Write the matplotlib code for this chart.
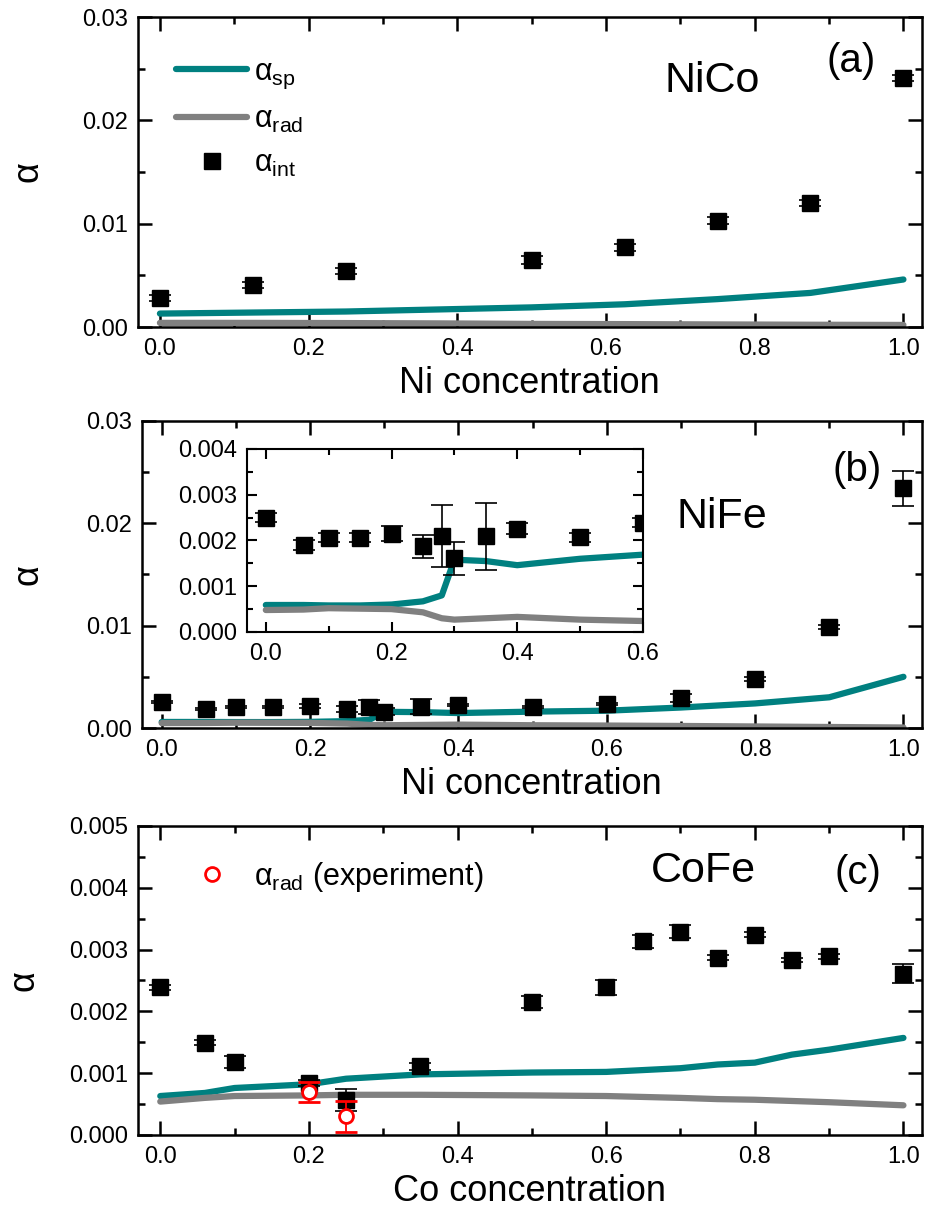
import matplotlib
matplotlib.use('Agg')
import matplotlib.pyplot as plt
from matplotlib.lines import Line2D
from matplotlib.ticker import MultipleLocator, FormatStrFormatter

plt.rcParams['font.family'] = ['Liberation Sans', 'DejaVu Sans']
plt.rcParams['mathtext.fontset'] = 'custom'
plt.rcParams['mathtext.rm'] = 'Liberation Sans'

TEAL = '#008080'
GREY = '#808080'

# NiCo
x_nico = [0.0, 0.125, 0.25, 0.5, 0.625, 0.75, 0.875, 1.0]
int_nico = [0.0028, 0.0041, 0.0054, 0.0065, 0.0077, 0.0103, 0.0120, 0.0241]
err_nico = [0.0003, 0.0003, 0.0003, 0.0004, 0.0003, 0.0003, 0.0003, 0.0003]
xl_nico = [0.0, 0.125, 0.25, 0.375, 0.5, 0.625, 0.75, 0.875, 1.0]
sp_nico = [0.0013, 0.0014, 0.0015, 0.0017, 0.0019, 0.0022, 0.0027, 0.0033, 0.0046]
rad_nico = [0.0004, 0.0004, 0.00038, 0.00035, 0.0003, 0.00028, 0.00025, 0.00022, 0.0002]

# NiFe
x_nife = [0.0, 0.06, 0.1, 0.15, 0.2, 0.25, 0.28, 0.3, 0.35, 0.4, 0.5, 0.6, 0.7, 0.8, 0.9, 1.0]
int_nife = [0.0025, 0.0019, 0.00206, 0.00206, 0.00215, 0.00187, 0.00209, 0.00161,
            0.00209, 0.00226, 0.00207, 0.00239, 0.0029, 0.0048, 0.0099, 0.0234]
err_nife = [0.0001, 0.0001, 0.0001, 0.0001, 0.00017, 0.00026, 0.00068, 0.00036,
            0.00073, 0.00012, 0.0001, 0.0001, 0.0004, 0.0002, 0.0002, 0.0017]
sp_nife = [0.00059, 0.00059, 0.00058, 0.00058, 0.0006, 0.00067, 0.0008, 0.00158,
           0.00155, 0.00146, 0.0016, 0.00169, 0.0020, 0.0024, 0.0030, 0.0050]
rad_nife = [0.00048, 0.00049, 0.00052, 0.00051, 0.0005, 0.00043, 0.0003, 0.00027,
            0.0003, 0.00033, 0.00027, 0.00024, 0.0002, 0.00015, 0.0001, 0.00005]

# CoFe
x_cofe = [0.0, 0.06, 0.1, 0.2, 0.25, 0.35, 0.5, 0.6, 0.65, 0.7, 0.75, 0.8, 0.85, 0.9, 1.0]
int_cofe = [0.00239, 0.00149, 0.00118, 0.00084, 0.00057, 0.00111, 0.00215, 0.00239,
            0.00313, 0.00329, 0.00287, 0.00324, 0.00283, 0.00289, 0.00261]
err_cofe = [0.00004, 0.00004, 0.0001, 0.00005, 0.00018, 0.00006, 0.0001, 0.00012,
            0.0001, 0.0001, 0.00004, 0.00004, 0.00004, 0.00004, 0.00015]
xl_cofe = [0.0, 0.06, 0.1, 0.2, 0.25, 0.35, 0.5, 0.6, 0.7, 0.75, 0.8, 0.85, 0.9, 1.0]
sp_cofe = [0.00063, 0.00068, 0.00076, 0.00082, 0.00091, 0.00098, 0.00101, 0.00102,
           0.00108, 0.00114, 0.00117, 0.0013, 0.00138, 0.00157]
rad_cofe = [0.00054, 0.0006, 0.00063, 0.00064, 0.00065, 0.00065, 0.00064, 0.00063,
            0.0006, 0.00058, 0.00057, 0.00055, 0.00053, 0.00048]
x_exp = [0.2, 0.25]
rad_exp = [0.0007, 0.0003]
err_exp = [0.00016, 0.00025]


def style_axis(ax, ymajor, yminor, fmt, major=10, minor=5, width=1.8):
    ax.xaxis.set_major_locator(MultipleLocator(0.2))
    ax.xaxis.set_minor_locator(MultipleLocator(0.1))
    ax.yaxis.set_major_locator(MultipleLocator(ymajor))
    ax.yaxis.set_minor_locator(MultipleLocator(yminor))
    ax.xaxis.set_major_formatter(FormatStrFormatter('%.1f'))
    ax.yaxis.set_major_formatter(FormatStrFormatter(fmt))
    ax.tick_params(which='both', direction='in', top=True, right=True,
                   labelsize=17, width=width)
    ax.tick_params(axis='y', which='major', pad=7)
    ax.tick_params(axis='x', which='major', pad=8)
    ax.tick_params(which='major', length=major)
    ax.tick_params(which='minor', length=minor)
    for s in ax.spines.values():
        s.set_linewidth(width)


def draw(ax, xl, sp, rad, xd, yd, ed):
    ax.plot(xl, sp, color=TEAL, lw=4.5, solid_capstyle='round')
    ax.plot(xl, rad, color=GREY, lw=4.5, solid_capstyle='round')
    ax.errorbar(xd, yd, yerr=ed, fmt='s', color='black', ms=11, capsize=8,
                elinewidth=1.2, capthick=1.2, zorder=5)


def label_axis(ax, xlabel, xpos):
    ax.set_xlabel(xlabel, fontsize=26, labelpad=4)
    ax.set_ylabel('α', fontsize=26, va='center')
    ax.yaxis.set_label_coords(xpos, 0.5)


fig = plt.figure(figsize=(9.26, 12.17), dpi=100)
ax1 = fig.add_axes([0.1486, 0.7313, 0.8471, 0.2547])
ax2 = fig.add_axes([0.1530, 0.4018, 0.8427, 0.2525])
ax3 = fig.add_axes([0.1490, 0.0674, 0.8467, 0.2540])

# (a) NiCo
draw(ax1, xl_nico, sp_nico, rad_nico, x_nico, int_nico, err_nico)
ax1.set_xlim(-0.03, 1.025)
ax1.set_ylim(0, 0.03)
style_axis(ax1, 0.01, 0.005, '%.2f')
label_axis(ax1, 'Ni concentration', -0.14)
ax1.text(0.732, 0.794, 'NiCo', transform=ax1.transAxes, fontsize=31, ha='center', va='center')
ax1.text(0.909, 0.858, '(a)', transform=ax1.transAxes, fontsize=29, ha='center', va='center')
handles = [Line2D([], [], color=TEAL, lw=4.5, solid_capstyle='round'),
           Line2D([], [], color=GREY, lw=4.5, solid_capstyle='round'),
           Line2D([], [], color='black', marker='s', ls='none', ms=11)]
labels = [r'α$_{\mathregular{sp}}$', r'α$_{\mathregular{rad}}$', r'α$_{\mathregular{int}}$']
ax1.legend(handles, labels, loc='upper left', bbox_to_anchor=(0.034, 0.91), frameon=False,
           fontsize=22, handlelength=2.3, labelspacing=0.45, handletextpad=0.25,
           borderaxespad=0)

# (b) NiFe
draw(ax2, x_nife, sp_nife, rad_nife, x_nife, int_nife, err_nife)
ax2.set_xlim(-0.027, 1.025)
ax2.set_ylim(0, 0.03)
style_axis(ax2, 0.01, 0.005, '%.2f')
label_axis(ax2, 'Ni concentration', -0.146)
ax2.text(0.743, 0.687, 'NiFe', transform=ax2.transAxes, fontsize=31, ha='center', va='center')
ax2.text(0.917, 0.84, '(b)', transform=ax2.transAxes, fontsize=29, ha='center', va='center')

axi = fig.add_axes([0.2667, 0.4807, 0.4276, 0.1504])
draw(axi, x_nife, sp_nife, rad_nife, x_nife, int_nife, err_nife)
axi.set_xlim(-0.03, 0.6)
axi.set_ylim(0, 0.004)
style_axis(axi, 0.001, 0.0005, '%.3f', major=7, minor=4, width=1.5)

# (c) CoFe
draw(ax3, xl_cofe, sp_cofe, rad_cofe, x_cofe, int_cofe, err_cofe)
ax3.errorbar(x_exp, rad_exp, yerr=err_exp, fmt='o', mfc='white', mec='red', mew=2,
             ms=10, color='red', capsize=8, elinewidth=1.3, capthick=1.3, zorder=6)
ax3.set_xlim(-0.03, 1.025)
ax3.set_ylim(0, 0.005)
style_axis(ax3, 0.001, 0.0005, '%.3f')
label_axis(ax3, 'Co concentration', -0.145)
ax3.text(0.721, 0.854, 'CoFe', transform=ax3.transAxes, fontsize=31, ha='center', va='center')
ax3.text(0.918, 0.848, '(c)', transform=ax3.transAxes, fontsize=29, ha='center', va='center')
exp_handle = Line2D([], [], marker='o', ls='none', mfc='white', mec='red', mew=2, ms=10)
ax3.legend([exp_handle], [r'α$_{\mathregular{rad}}$ (experiment)'], loc='upper left',
           bbox_to_anchor=(0.05, 0.93), frameon=False, fontsize=22,
           handlelength=1.5, handletextpad=0.6, borderaxespad=0)

fig.savefig('out.png', dpi=100)
